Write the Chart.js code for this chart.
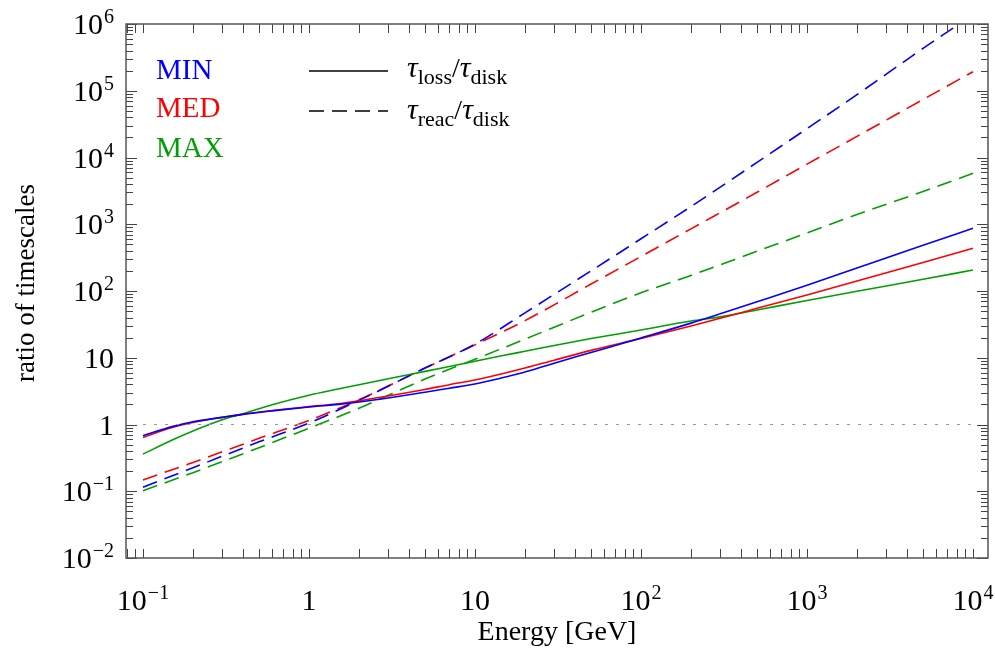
<!DOCTYPE html>
<html>
<head>
<meta charset="utf-8">
<script src="https://cdn.jsdelivr.net/npm/chart.js@4.4.0/dist/chart.umd.min.js"></script>
<style>
  html, body { margin: 0; padding: 0; background: #fff; }
</style>
</head>
<body>
<canvas id="timescales" width="995" height="655"></canvas>
<script>
// Energy grids (GeV)
const energyLoss = [0.1, 0.15, 0.2, 0.3, 0.4, 0.6, 1, 1.5, 2, 3, 5, 7, 10, 15, 20, 30, 50, 100, 200, 300, 500, 1000, 2000, 5000, 10000];
const energyReac = [0.1, 0.2, 0.5, 1, 2, 5, 10, 20, 50, 100, 200, 500, 1000, 2000, 5000, 10000];

// tau_loss / tau_disk
const minLoss = [0.68, 0.93, 1.1, 1.28, 1.42, 1.6, 1.83, 2.0, 2.17, 2.5, 3.05, 3.5, 4.05, 5.1, 6.1, 8.3, 12, 19.8, 33, 45.5, 69, 122, 221, 484, 870];
const medLoss = [0.64, 0.9, 1.07, 1.28, 1.43, 1.62, 1.85, 2.05, 2.27, 2.68, 3.35, 3.95, 4.65, 5.85, 7.0, 9.2, 12.9, 19.5, 30, 39, 55, 87, 141, 268, 437];
const maxLoss = [0.36, 0.585, 0.8, 1.18, 1.45, 1.98, 2.75, 3.4, 3.95, 4.85, 6.25, 7.4, 8.85, 10.9, 12.5, 15.3, 19.4, 26, 35.5, 41, 52, 72, 99, 150, 206];

// tau_reac / tau_disk
const minReac = [0.115, 0.225, 0.55, 1.05, 2.3, 7.0, 16, 47, 200, 606, 1840, 8440, 27100, 87500, 430000, 1380000];
const medReac = [0.148, 0.27, 0.62, 1.15, 2.35, 7.0, 15.6, 36, 127, 329, 854, 3010, 7950, 20700, 73900, 193000];
const maxReac = [0.102, 0.19, 0.45, 0.88, 1.75, 4.8, 9.5, 19, 48, 94, 171, 394, 740, 1400, 3100, 5800];

// reference line at ratio = 1
const unityX = [0.1, 10000];
const unityY = [1, 1];

// axis ticks: [value, base, exponent]
const xTicks = [[0.1, '10', '\u22121'], [1, '1', ''], [10, '10', ''], [100, '10', '2'], [1000, '10', '3'], [10000, '10', '4']];
const yTicks = [[0.01, '10', '\u22122'], [0.1, '10', '\u22121'], [1, '1', ''], [10, '10', ''], [100, '10', '2'],
                [1000, '10', '3'], [10000, '10', '4'], [100000, '10', '5'], [1000000, '10', '6']];

const BLUE = '#0000ff', RED = '#ff0000', GREEN = '#00a000';
const SERIF = '"Liberation Serif", "Times New Roman", serif';

function pts(xs, ys) {
    return xs.map((x, i) => ({ x: x, y: ys[i] }));
}

function curve(label, xs, ys, color, dashed) {
    return {
        label: label,
        data: pts(xs, ys),
        showLine: true,
        borderColor: color,
        borderWidth: 1.6,
        borderDash: dashed ? [15, 8] : [],
        pointRadius: 0,
        cubicInterpolationMode: 'monotone',
        fill: false
    };
}

// draws text "base^exp"; align: 'center' | 'right'
function drawPower(ctx, base, exp, x, y, align) {
    ctx.font = '30px ' + SERIF;
    const wb = ctx.measureText(base).width;
    ctx.font = '20px ' + SERIF;
    const we = exp ? ctx.measureText(exp).width + 1 : 0;
    const total = wb + we;
    const x0 = align === 'right' ? x - total : x - total / 2;
    ctx.textAlign = 'left';
    ctx.textBaseline = 'alphabetic';
    ctx.font = '30px ' + SERIF;
    ctx.fillText(base, x0, y);
    if (exp) {
        ctx.font = '20px ' + SERIF;
        ctx.fillText(exp, x0 + wb + 1, y - 11);
    }
}

// tau_{sub1}/tau_{disk}
function drawTauRatio(ctx, sub1, x, y) {
    ctx.textAlign = 'left';
    ctx.textBaseline = 'alphabetic';
    let cx = x;
    const tau = 'italic 30px ' + SERIF, big = '28px ' + SERIF, small = '22px ' + SERIF;
    ctx.font = tau; ctx.fillText('\u03c4', cx, y); cx += ctx.measureText('\u03c4').width;
    ctx.font = small; ctx.fillText(sub1, cx, y + 7); cx += ctx.measureText(sub1).width;
    ctx.font = big; ctx.fillText('/', cx, y); cx += ctx.measureText('/').width;
    ctx.font = tau; ctx.fillText('\u03c4', cx, y); cx += ctx.measureText('\u03c4').width;
    ctx.font = small; ctx.fillText('disk', cx, y + 7);
}

const frameAndLabels = {
    id: 'frameAndLabels',
    afterDraw(chart) {
        const ctx = chart.ctx;
        const a = chart.chartArea;
        const xs = chart.scales.x, ys = chart.scales.y;
        ctx.save();

        // inward ticks on all four sides
        ctx.strokeStyle = '#444';
        ctx.lineWidth = 1;
        ctx.beginPath();
        for (let d = -2; d <= 4; d++) {
            for (let m = 1; m <= 9; m++) {
                const v = m * Math.pow(10, d);
                if (v < xs.min || v > xs.max) continue;
                const px = Math.round(xs.getPixelForValue(v)) + 0.5;
                ctx.moveTo(px, a.bottom); ctx.lineTo(px, a.bottom - 9);
                ctx.moveTo(px, a.top); ctx.lineTo(px, a.top + 9);
            }
        }
        for (let d = -2; d <= 6; d++) {
            for (let m = 1; m <= 9; m++) {
                const v = m * Math.pow(10, d);
                if (v < ys.min * 0.999 || v > ys.max * 1.001) continue;
                const len = m === 1 ? 11 : 7;
                const py = Math.round(ys.getPixelForValue(v)) + 0.5;
                ctx.moveTo(a.left, py); ctx.lineTo(a.left + len, py);
                ctx.moveTo(a.right, py); ctx.lineTo(a.right - len, py);
            }
        }
        ctx.stroke();

        // frame
        ctx.strokeStyle = '#555';
        ctx.lineWidth = 1.5;
        ctx.strokeRect(a.left, a.top, a.right - a.left, a.bottom - a.top);

        // tick labels
        ctx.fillStyle = '#000';
        xTicks.forEach(t => drawPower(ctx, t[1], t[2], xs.getPixelForValue(t[0]), a.bottom + 52, 'center'));
        yTicks.forEach(t => drawPower(ctx, t[1], t[2], a.left - 12, ys.getPixelForValue(t[0]) + 10, 'right'));

        // axis titles
        ctx.textAlign = 'center';
        ctx.textBaseline = 'middle';
        ctx.font = '28px ' + SERIF;
        ctx.fillText('Energy [GeV]', (a.left + a.right) / 2, 633);
        ctx.font = '27px ' + SERIF;
        ctx.save();
        ctx.translate(27, (a.top + a.bottom) / 2 - 8);
        ctx.rotate(-Math.PI / 2);
        ctx.fillText('ratio of timescales', 0, 0);
        ctx.restore();

        // legend: models
        ctx.textAlign = 'left';
        ctx.textBaseline = 'alphabetic';
        ctx.font = '29px ' + SERIF;
        ctx.fillStyle = BLUE; ctx.fillText('MIN', 156, 79);
        ctx.fillStyle = RED; ctx.fillText('MED', 156, 117);
        ctx.fillStyle = GREEN; ctx.fillText('MAX', 156, 157);

        // legend: line styles
        ctx.strokeStyle = '#000';
        ctx.lineWidth = 1.6;
        ctx.beginPath(); ctx.moveTo(309, 71); ctx.lineTo(388, 71); ctx.stroke();
        ctx.setLineDash([15, 8]);
        ctx.beginPath(); ctx.moveTo(309, 111); ctx.lineTo(388, 111); ctx.stroke();
        ctx.setLineDash([]);
        ctx.fillStyle = '#000';
        drawTauRatio(ctx, 'loss', 407, 77);
        drawTauRatio(ctx, 'reac', 407, 119);

        ctx.restore();
    }
};

const ctx = document.getElementById('timescales').getContext('2d');
new Chart(ctx, {
    type: 'scatter',
    data: {
        datasets: [
            {
                label: 'unity',
                data: pts(unityX, unityY),
                showLine: true,
                borderColor: '#999',
                borderWidth: 1,
                borderDash: [3, 8],
                pointRadius: 0
            },
            curve('MIN loss', energyLoss, minLoss, BLUE, false),
            curve('MED loss', energyLoss, medLoss, RED, false),
            curve('MAX loss', energyLoss, maxLoss, GREEN, false),
            curve('MIN reac', energyReac, minReac, BLUE, true),
            curve('MED reac', energyReac, medReac, RED, true),
            curve('MAX reac', energyReac, maxReac, GREEN, true)
        ]
    },
    options: {
        responsive: false,
        animation: false,
        layout: { padding: { left: 126, right: 7, top: 24, bottom: 97 } },
        scales: {
            x: { type: 'logarithmic', min: 0.079, max: 12313, display: false },
            y: { type: 'logarithmic', min: 0.01, max: 1000000, display: false }
        },
        plugins: {
            legend: { display: false },
            tooltip: { enabled: false }
        }
    },
    plugins: [frameAndLabels]
});
</script>
</body>
</html>
